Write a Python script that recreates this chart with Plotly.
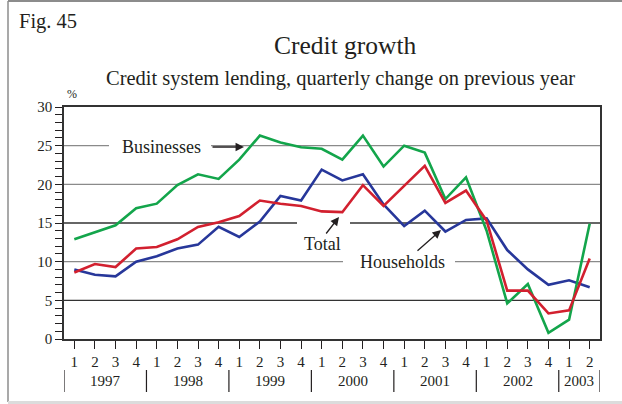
import plotly.graph_objects as go

quarter_labels = ["1", "2", "3", "4"] * 6 + ["1", "2"]
years = ["1997", "1998", "1999", "2000", "2001", "2002", "2003"]
businesses = [12.9, 13.8, 14.7, 16.9, 17.5, 19.9, 21.3, 20.7, 23.2, 26.3, 25.4, 24.8, 24.6,
              23.2, 26.3, 22.3, 25.0, 24.1, 18.1, 20.9, 14.0, 4.6, 7.1, 0.8, 2.5, 14.9]
total = [8.6, 9.7, 9.3, 11.7, 11.9, 12.9, 14.5, 15.1, 15.9, 17.9, 17.5, 17.2, 16.5,
         16.4, 19.9, 17.2, 19.8, 22.4, 17.6, 19.2, 15.3, 6.25, 6.25, 3.3, 3.7, 10.4]
households = [9.0, 8.3, 8.1, 10.0, 10.7, 11.7, 12.2, 14.5, 13.2, 15.2, 18.5, 17.9, 21.9,
              20.5, 21.3, 17.4, 14.6, 16.6, 13.9, 15.4, 15.6, 11.5, 9.0, 7.0, 7.6, 6.7]

x = list(range(len(quarter_labels)))
W, H = 622, 404
L, R, T, B = 64, 22, 107, 65
pw, ph = W - L - R, H - T - B
FONT = "Liberation Serif, Times New Roman, serif"
TXT = "#231f20"

def px(v):
    return (v - L) / pw

def py(v):
    return (H - B - v) / ph

fig = go.Figure()
fig.add_trace(go.Scatter(x=x, y=households, mode="lines", name="Households",
                         line=dict(color="#27379a", width=2.6)))
fig.add_trace(go.Scatter(x=x, y=businesses, mode="lines", name="Businesses",
                         line=dict(color="#13a54b", width=2.6)))
fig.add_trace(go.Scatter(x=x, y=total, mode="lines", name="Total",
                         line=dict(color="#d2202f", width=2.6)))

shapes = []
grid = [
    (25, "#8a8a8a", [(L, 109), (211, L + pw)]),
    (20, "#8a8a8a", [(L, L + pw)]),
    (15, "#333333", [(L, 297), (350, L + pw)]),
    (10, "#8a8a8a", [(L, 343), (455, L + pw)]),
    (5, "#333333", [(L, L + pw)]),
]
for yv, col, segs in grid:
    for a, b in segs:
        shapes.append(dict(type="line", xref="paper", yref="y", x0=px(a), x1=px(b),
                           y0=yv, y1=yv, line=dict(color=col, width=1.3), layer="below"))

for sep in [-0.5, 3.5, 7.5, 11.5, 15.5, 19.5, 23.5, 25.5]:
    shapes.append(dict(type="line", xref="x", yref="paper", x0=sep, x1=sep,
                       y0=py(370), y1=py(392), line=dict(color=TXT, width=1.2)))

shapes.append(dict(type="line", xref="paper", yref="paper", x0=px(8), x1=px(622),
                   y0=py(1), y1=py(1), line=dict(color="#8c8c8c", width=2)))
shapes.append(dict(type="line", xref="paper", yref="paper", x0=px(8), x1=px(8),
                   y0=py(1), y1=py(402), line=dict(color="#8c8c8c", width=1.5)))
shapes.append(dict(type="rect", xref="paper", yref="paper", x0=px(8), x1=px(622),
                   y0=py(401), y1=py(404), line=dict(width=0), fillcolor="#dcdcdc"))

def label(text, xp, yp, size, xanchor="center"):
    return dict(text=text, x=px(xp), y=py(yp), xref="paper", yref="paper",
                xanchor=xanchor, yanchor="middle", showarrow=False,
                font=dict(family=FONT, size=size, color=TXT))

annotations = []
year_centers = [1.5, 5.5, 9.5, 13.5, 17.5, 21.5, 24.5]
for yr, c in zip(years, year_centers):
    annotations.append(dict(text=yr, x=c, xref="x", y=py(381), yref="paper",
                            xanchor="center", yanchor="middle", showarrow=False,
                            font=dict(family=FONT, size=15, color=TXT)))

annotations += [
    label("Fig. 45", 17, 22, 20.5, "left"),
    label("Credit growth", 345, 45, 25.5),
    label("Credit system lending, quarterly change on previous year", 340, 78, 20.5),
    label("%", 72, 94, 12),
    label("Businesses", 161, 147, 18),
    label("Total", 322, 244, 18),
    label("Households", 402, 262, 18),
]

def arrow(x1, y1, x0, y0):
    return dict(text="", x=px(x1), y=py(y1), ax=x0 - x1, ay=y0 - y1, xref="paper",
                yref="paper", showarrow=True, arrowhead=2, arrowsize=1.3,
                arrowwidth=1.3, arrowcolor=TXT)

annotations += [arrow(244, 147, 211, 147), arrow(339, 217, 325, 235),
                arrow(441, 230, 416, 252)]

fig.update_layout(
    width=W, height=H,
    margin=dict(l=L, r=R, t=T, b=B, pad=0),
    paper_bgcolor="white", plot_bgcolor="white",
    showlegend=False,
    shapes=shapes, annotations=annotations,
    font=dict(family=FONT, color=TXT),
    xaxis=dict(range=[-0.5, 25.5], tickvals=x, ticktext=quarter_labels,
               ticks="outside", ticklen=8, tickcolor=TXT, tickwidth=1.2,
               showgrid=False, zeroline=False, showline=True, linecolor="#333333",
               linewidth=1.5, mirror=True, tickfont=dict(family=FONT, size=15, color=TXT)),
    yaxis=dict(range=[0, 30], tickvals=[0, 5, 10, 15, 20, 25, 30],
               ticks="outside", ticklen=7, tickcolor=TXT, tickwidth=1.2,
               minor=dict(dtick=1, ticks="outside", ticklen=7, tickcolor=TXT, tickwidth=1.2),
               showgrid=False, zeroline=False, showline=True, linecolor="#333333",
               linewidth=1.5, mirror=True, tickfont=dict(family=FONT, size=15, color=TXT)),
)

fig.write_html("out.html", config={"displayModeBar": False},
               post_script="document.body.style.margin='0';document.body.style.overflow='hidden';")
